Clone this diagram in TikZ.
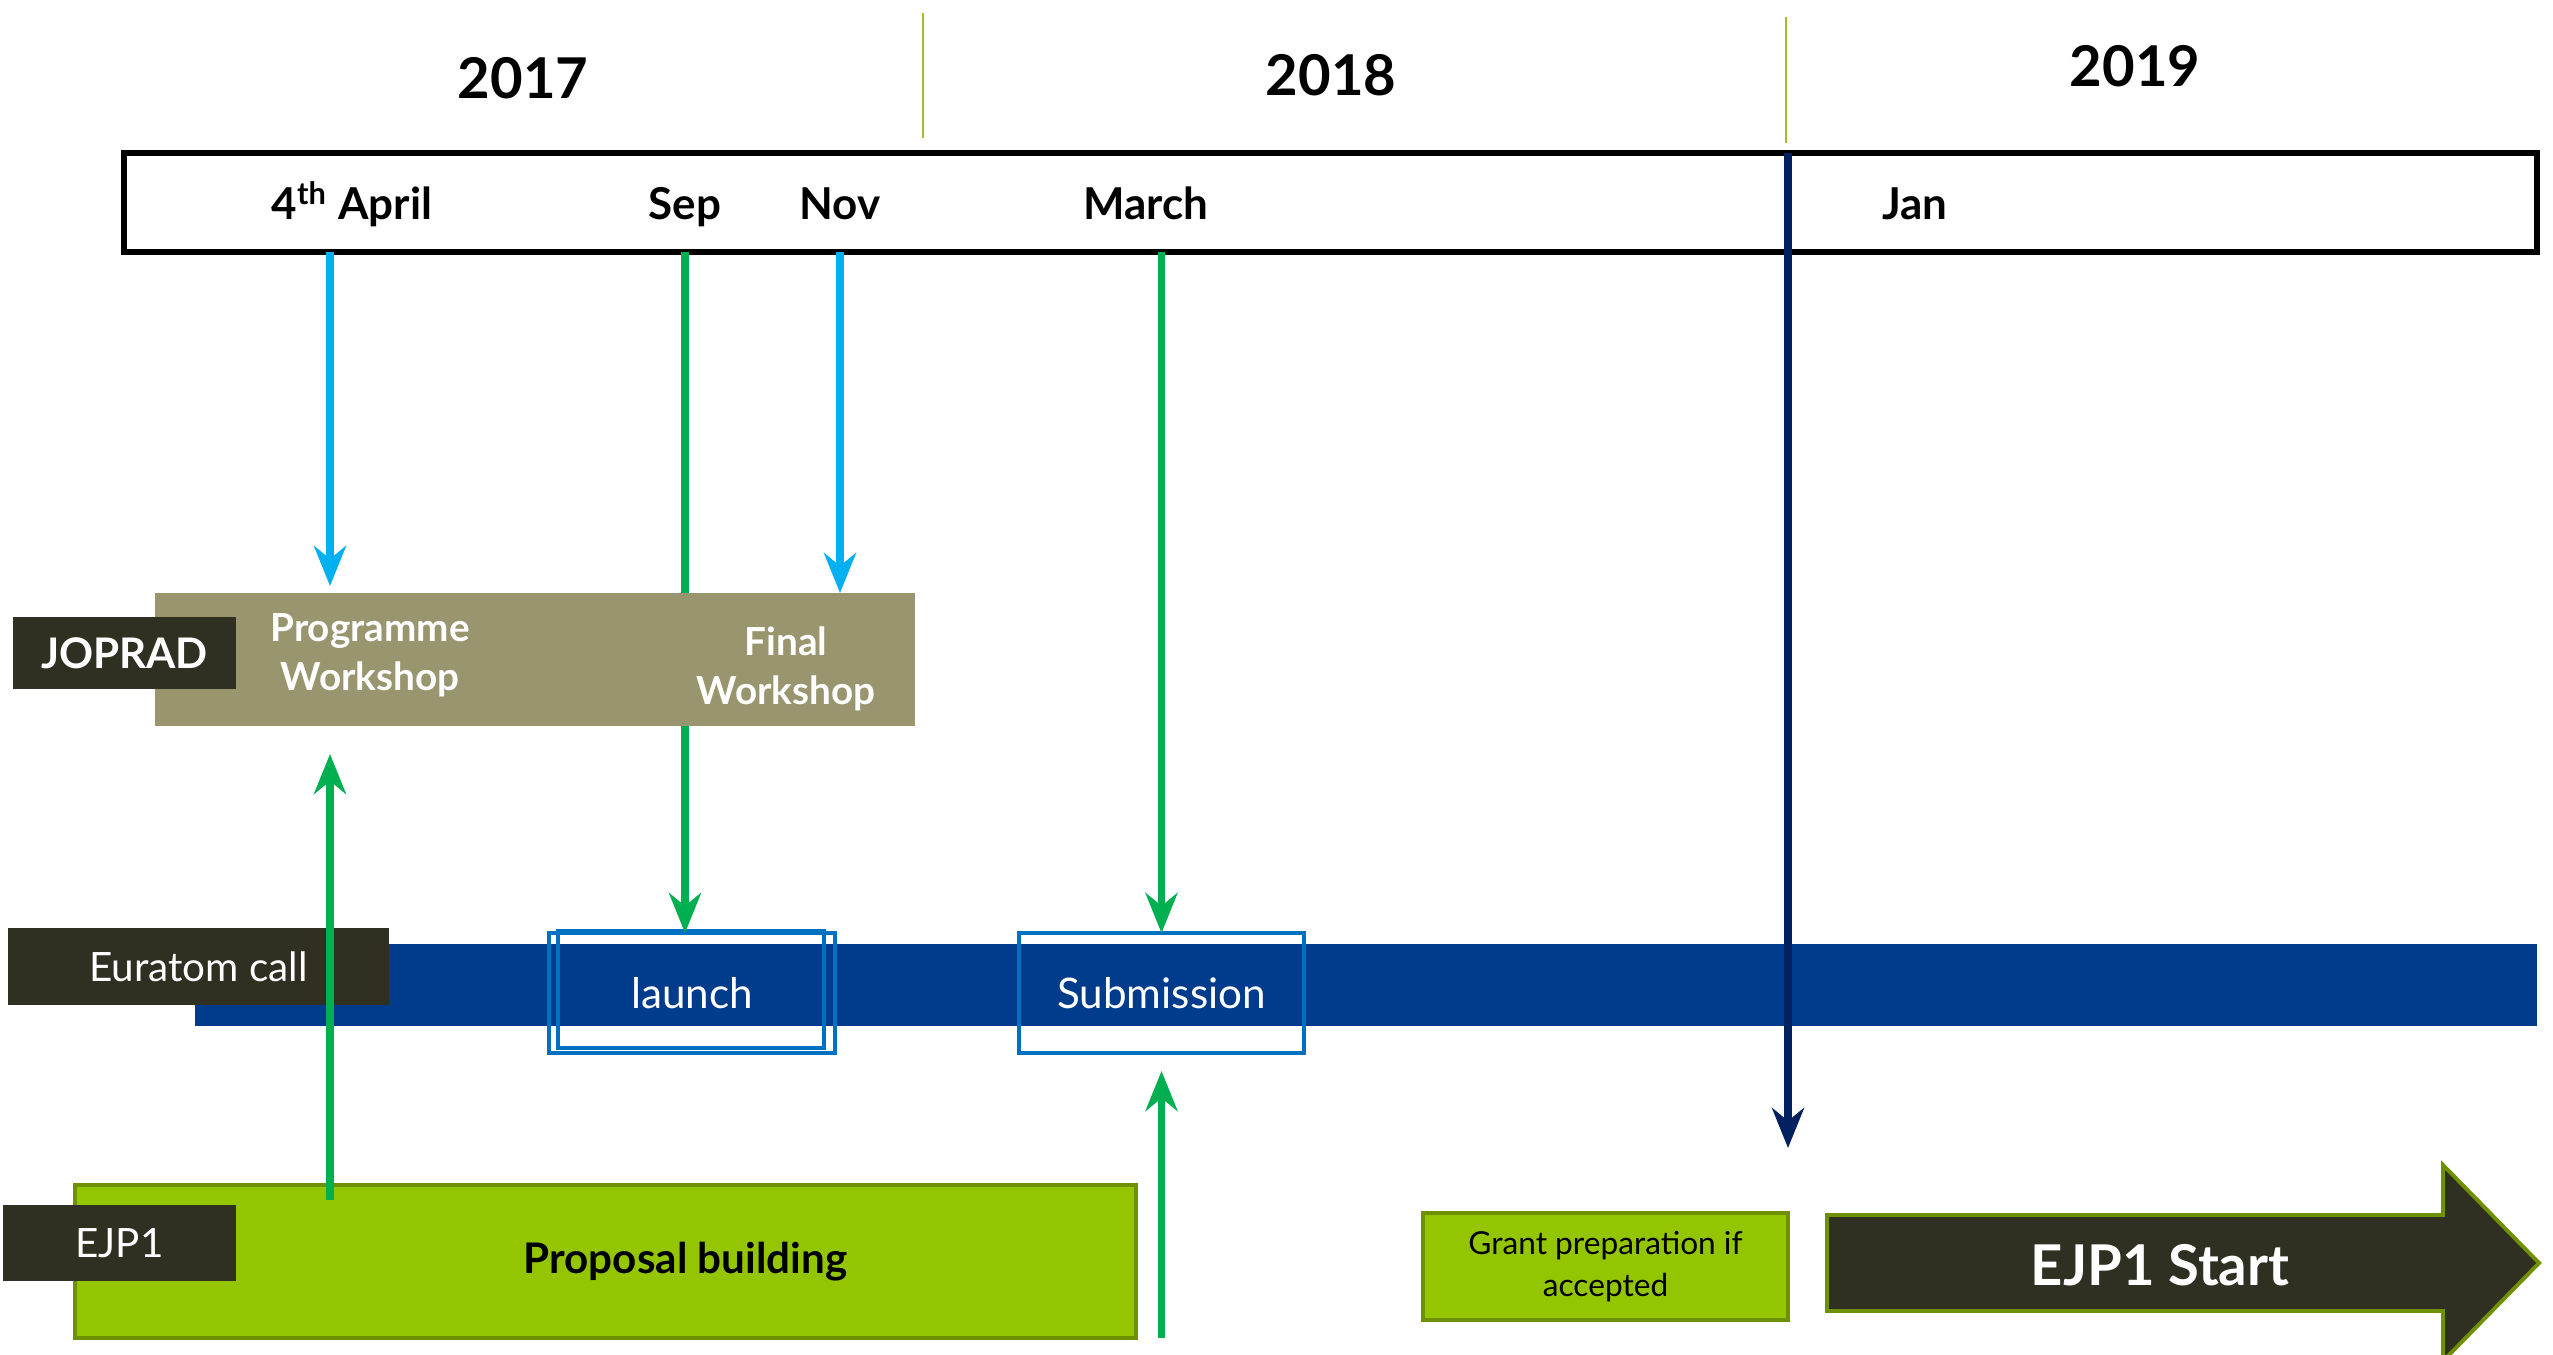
\documentclass[tikz,border=0pt]{standalone}
\usepackage{fontspec}
\setmainfont{Lato}
\usetikzlibrary{positioning,calc,arrows.meta}
\definecolor{arrcyan}{HTML}{00B0F0}
\definecolor{arrgreen}{HTML}{00B050}
\definecolor{arrnavy}{HTML}{002060}
\definecolor{yearline}{HTML}{9DC32A}
\definecolor{jopradkhaki}{HTML}{99966F}
\definecolor{darklbl}{HTML}{2F2F22}
\definecolor{callblue}{HTML}{003B8C}
\definecolor{calledge}{HTML}{0070C0}
\definecolor{ejpgreen}{HTML}{93C500}
\definecolor{ejpedge}{HTML}{6F9000}

\begin{document}
\begin{tikzpicture}[
		box/.style={anchor=north west,inner sep=0pt,outer sep=0pt},
		darktag/.style={box,fill=darklbl,text=white,align=center},
		yearlbl/.style={anchor=base,font=\bfseries\fontsize{16}{19}\selectfont},
		monthlbl/.style={anchor=base,font=\bfseries\fontsize{12.5}{15}\selectfont},
		callbox/.style={box,draw=calledge,line width=1.1pt,text=white,font=\fontsize{12}{14}\selectfont},
		ejpbox/.style={box,fill=ejpgreen,draw=ejpedge,line width=1.1pt,align=center},
		arr/.style={-{Stealth[length=4mm,width=3.2mm,inset=1.3mm]},line width=2.1pt},
	]
		\useasboundingbox (0,0) rectangle (25.53,-13.55);
		\node[box,draw=black,line width=1.7pt,minimum width=24.13cm,minimum height=0.99cm] (tl) at (1.24,-1.53) {};
		\draw[yearline,line width=0.6pt] (9.23,-0.13) -- (9.23,-1.38);
		\draw[yearline,line width=0.6pt] (17.86,-0.17) -- (17.86,-1.43);
		\node[yearlbl] (y17) at (5.23,-0.99) {2017};
		\node[yearlbl] (y18) at (13.31,-0.96) {2018};
		\node[yearlbl] (y19) at (21.35,-0.87) {2019};
		\node[monthlbl] (apr) at (3.52,-2.20) {4\textsuperscript{th} April};
		\node[monthlbl] (sep) at (6.85,-2.20) {Sep};
		\node[monthlbl] (nov) at (8.40,-2.20) {Nov};
		\node[monthlbl] (mar) at (11.46,-2.20) {March};
		\node[monthlbl] (jan) at (19.15,-2.20) {Jan};
		\coordinate (aprtick) at (3.30,-2.52);
		\coordinate (janend) at (17.88,-11.48);
		
		\node[box,fill=callblue,minimum width=23.42cm,minimum height=0.82cm] (euraband) at (1.95,-9.44) {};
		\node[darktag,minimum width=3.81cm,minimum height=0.77cm,font=\fontsize{11.5}{14}\selectfont] (euralbl) at (0.08,-9.28) {Euratom call};
		\node[callbox,minimum width=2.86cm,minimum height=1.20cm] (launch) at (5.49,-9.33) {launch};
		\draw[calledge,line width=1.1pt] ([xshift=0.09cm,yshift=0.02cm]launch.north west) rectangle ([xshift=-0.11cm,yshift=0.05cm]launch.south east);
		\node[callbox,minimum width=2.85cm,minimum height=1.20cm] (subm) at (10.19,-9.33) {Submission};
		\draw[arr,arrgreen] (tl.south -| sep) -- (launch.north -| sep);
		
		\node[box,fill=jopradkhaki,minimum width=7.60cm,minimum height=1.33cm] (joprad) at (1.55,-5.93) {};
		\node[darktag,minimum width=2.23cm,minimum height=0.72cm,font=\bfseries\fontsize{12}{14}\selectfont] (jopradlbl) at (0.13,-6.17) {JOPRAD};
		\node[align=center,text=white,font=\bfseries\fontsize{11}{14}\selectfont] (pw) at (3.70,-6.55) {Programme\\Workshop};
		\node[align=center,text=white,font=\bfseries\fontsize{11}{14}\selectfont] (fw) at (7.86,-6.69) {Final\\Workshop};
		
		\node[ejpbox,minimum width=10.61cm,minimum height=1.53cm,font=\bfseries\fontsize{12}{14}\selectfont] (proposal) at (0.75,-11.85) {\hspace*{1.6cm}\raisebox{-0.5mm}{Proposal building}};
		\node[darktag,minimum width=2.33cm,minimum height=0.76cm,font=\fontsize{11.5}{14}\selectfont] (ejplbl) at (0.03,-12.05) {EJP1};
		
		\draw[arr,arrcyan] (tl.south -| aprtick) -- ($(joprad.north -| aprtick)+(0,0.07)$);
		\draw[arr,arrcyan] (tl.south -| nov) -- (joprad.north -| nov);
		\draw[arr,arrgreen] (tl.south -| subm) -- (subm.north);
		\draw[arr,arrgreen] ($(proposal.north -| aprtick)+(0,-0.15)$) -- ($(joprad.south -| aprtick)+(0,-0.28)$);
		\draw[arr,arrgreen] (proposal.south -| subm) -- ($(subm.south)+(0,-0.18)$);
		\draw[arr,arrnavy] (tl.north -| janend) -- (janend);
		
		\node[ejpbox,minimum width=3.65cm,minimum height=1.07cm,font=\fontsize{9}{12}\selectfont] (grant) at (14.23,-12.13) {Grant preparation if\\accepted};
		\filldraw[fill=darklbl,draw=ejpedge,line width=1.1pt] (18.27,-12.15) -- (24.43,-12.15) -- (24.43,-11.65) -- (25.39,-12.63) -- (24.43,-13.61) -- (24.43,-13.11) -- (18.27,-13.11) -- cycle;
		\node[text=white,font=\bfseries\fontsize{16}{19}\selectfont] (start) at (21.60,-12.65) {EJP1 Start};
	\end{tikzpicture}
\end{document}
